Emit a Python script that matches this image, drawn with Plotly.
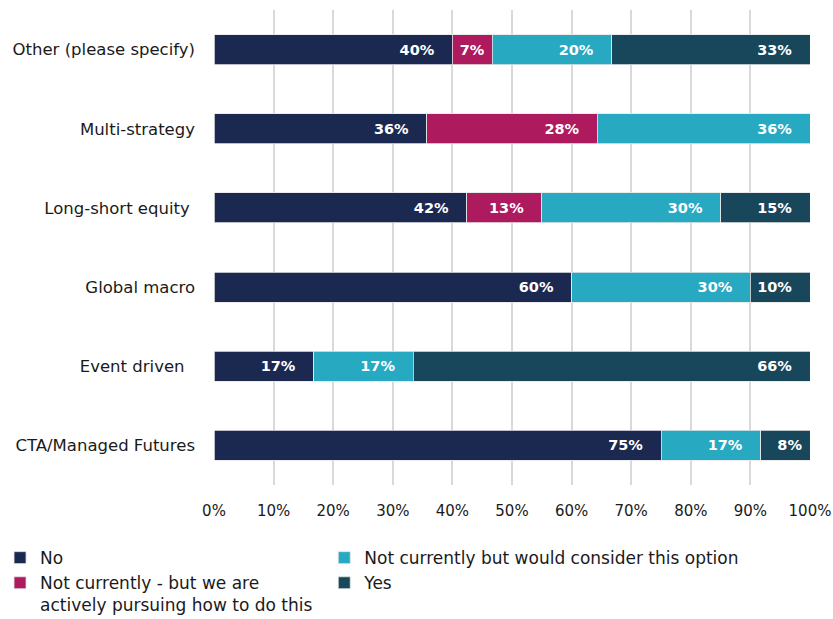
import plotly.graph_objects as go

categories = ["CTA/Managed Futures", "Event driven\u00a0\u00a0", "Global macro",
              "Long-short equity\u00a0", "Multi-strategy", "Other (please specify)"]

no_vals = [75.0, 16.7, 60.0, 42.4, 35.7, 40.0]
pursuing_vals = [0, 0, 0, 12.6, 28.6, 6.7]
consider_vals = [16.7, 16.7, 30.0, 30.0, 35.7, 20.0]
yes_vals = [8.3, 66.6, 10.0, 15.0, 0, 33.3]

no_text = ["75%", "17%", "60%", "42%", "36%", "40%"]
pursuing_text = ["", "", "", "13%", "28%", "7%"]
consider_text = ["17%", "17%", "30%", "30%", "36%", "20%"]
yes_text = ["8%", "66%", "10%", "15%", "", "33%"]

tick_vals = [0, 10, 20, 30, 40, 50, 60, 70, 80, 90, 100]
tick_text = ["0%", "10%", "20%", "30%", "40%", "50%", "60%", "70%", "80%", "90%", "100%"]

FONT = "DejaVu Sans"
series = [
    ("No", no_vals, no_text, "#1b2850", "legend", 1),
    ("Not currently - but we are<br>actively pursuing how to do this", pursuing_vals, pursuing_text, "#ad1a5e", "legend", 2),
    ("Not currently but would consider this option", consider_vals, consider_text, "#27a9c2", "legend2", 3),
    ("Yes", yes_vals, yes_text, "#18475c", "legend2", 4),
]


def padded(txt, vals):
    out = []
    for t, v in zip(txt, vals):
        if not t:
            out.append("")
        elif v < 10:
            out.append(t + "\u00a0")
        else:
            out.append(t + "\u00a0\u00a0\u00a0")
    return out


fig = go.Figure()
for name, vals, txt, color, lg, rank in series:
    fig.add_trace(go.Bar(
        y=categories, x=vals, name=name, orientation="h",
        marker=dict(color=color, line=dict(color="#e6e6e6", width=0.8)),
        text=padded(txt, vals), textposition="inside", insidetextanchor="end",
        textfont=dict(color="white", size=14.5, family=FONT, weight="bold"),
        legend=lg, legendrank=rank, hoverinfo="skip",
    ))

fig.update_layout(
    barmode="stack",
    bargap=0.62,
    width=833, height=619,
    margin=dict(l=214, r=23, t=10, b=134, autoexpand=False),
    paper_bgcolor="white", plot_bgcolor="white",
    font=dict(family=FONT, size=16.5, color="#1a1a1a"),
    legend=dict(x=-0.359, y=-0.116, xanchor="left", yanchor="top",
                orientation="v", font=dict(size=17), tracegroupgap=0, valign="top",
                traceorder="normal", itemwidth=30, bgcolor="rgba(0,0,0,0)"),
    legend2=dict(x=0.185, y=-0.116, xanchor="left", yanchor="top",
                 orientation="v", font=dict(size=17), tracegroupgap=0, valign="top",
                 traceorder="normal", itemwidth=30, bgcolor="rgba(0,0,0,0)"),
)
fig.update_xaxes(range=[0, 100], tickvals=tick_vals, ticktext=tick_text,
                 showgrid=True, gridcolor="#d9d9d9", gridwidth=2,
                 zeroline=False, showline=False, ticks="", ticklabelstandoff=15,
                 tickfont=dict(size=15))
fig.update_yaxes(showgrid=False, ticks="", ticklabelstandoff=18,
                 tickfont=dict(size=16.5), showline=False)

fig.write_html("out.html", config={"displayModeBar": False},
               post_script="document.body.style.margin='0';")
